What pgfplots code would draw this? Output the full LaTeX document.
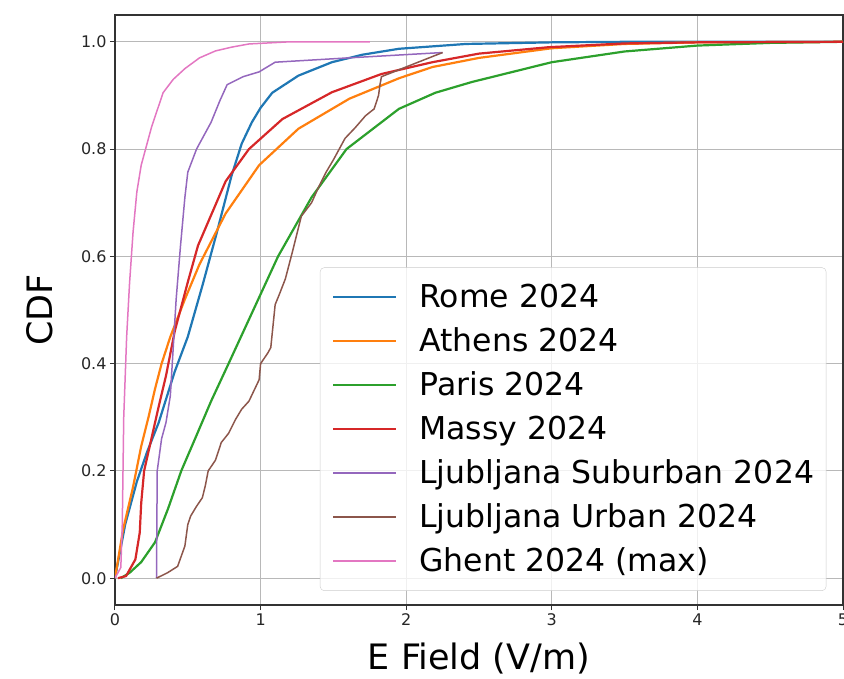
\documentclass[border=0pt]{standalone}
\usepackage{pgfplots}
\pgfplotsset{compat=1.18}
\usepackage{fontspec}
\setmainfont{DejaVu Sans}
\definecolor{c0}{HTML}{1F77B4}
\definecolor{c1}{HTML}{FF7F0E}
\definecolor{c2}{HTML}{2CA02C}
\definecolor{c3}{HTML}{D62728}
\definecolor{c4}{HTML}{9467BD}
\definecolor{c5}{HTML}{8C564B}
\definecolor{c6}{HTML}{E377C2}
\begin{document}
\begin{tikzpicture}
\useasboundingbox (-115pt,-73pt) rectangle (729pt,605pt);
\begin{axis}[
  at={(0,0)}, anchor=south west,
  scale only axis, width=728pt, height=590pt,
  xmin=0, xmax=5, ymin=-0.05, ymax=1.05,
  xtick={0,1,2,3,4,5}, ytick={0,0.2,0.4,0.6,0.8,1.0},
  yticklabel style={/pgf/number format/.cd,fixed,fixed zerofill,precision=1},
  /pgf/number format/assume math mode=true,
  tick label style={font=\fontsize{16}{19}\selectfont, text=black!85},
  grid=major, major grid style={color=black!28, line width=1pt},
  axis line style={black!80, line width=1.3pt},
  tick align=outside, major tick length=5pt, tick style={black!80, line width=1pt},
  tick pos=left,
  xlabel={E Field (V/m)}, ylabel={CDF},
  label style={font=\fontsize{35}{40}\selectfont},
  xlabel style={at={(axis description cs:0.5,0)}, anchor=base, yshift=-64pt},
  ylabel style={at={(axis description cs:-0.0865,0.5)}, anchor=base, rotate=0},
  legend style={at={(0.977,0.024)}, anchor=south east, draw=black!20, rounded corners=4pt,
    fill=white, fill opacity=0.8, text opacity=1, font=\fontsize{31.5}{37}\selectfont,
    inner xsep=12pt, inner ysep=14pt, row sep=13pt,
    nodes={inner sep=0pt, text height=26pt, text depth=5pt},
    /tikz/every even column/.style={column sep=0pt},
    /tikz/every odd column/.style={column sep=0pt}},
  legend cell align=left,
  legend image code/.code={\draw[#1] (0pt,0pt) -- (63pt,0pt); \path (85pt,0pt);},
]
\addplot[c0, line width=2.2pt] coordinates {(0,0)(0.07,0.1)(0.15,0.18)(0.22,0.235)(0.30,0.29)(0.41,0.385)(0.50,0.45)(0.60,0.545)(0.70,0.645)(0.80,0.75)(0.87,0.81)(0.94,0.85)(1.00,0.877)(1.08,0.905)(1.26,0.937)(1.49,0.962)(1.7,0.976)(1.95,0.987)(2.41,0.996)(3.0,0.999)(3.5,1.0)(5,1.0)};
\addlegendentry{Rome 2024}
\addplot[c1, line width=2.2pt] coordinates {(0,0)(0.055,0.09)(0.124,0.17)(0.18,0.246)(0.23,0.30)(0.275,0.353)(0.32,0.40)(0.38,0.45)(0.48,0.52)(0.58,0.585)(0.76,0.68)(0.99,0.77)(1.26,0.838)(1.61,0.894)(1.95,0.932)(2.18,0.953)(2.5,0.97)(3.0,0.988)(3.5,0.996)(4.0,0.999)(5,1.0)};
\addlegendentry{Athens 2024}
\addplot[c2, line width=2.2pt] coordinates {(0.04,0)(0.10,0.01)(0.18,0.03)(0.275,0.067)(0.365,0.13)(0.455,0.2)(0.55,0.26)(0.66,0.33)(0.78,0.4)(0.95,0.5)(1.12,0.6)(1.35,0.71)(1.59,0.8)(1.95,0.875)(2.2,0.905)(2.45,0.925)(3.0,0.962)(3.5,0.982)(4.0,0.993)(4.5,0.998)(5,1.0)};
\addlegendentry{Paris 2024}
\addplot[c3, line width=2.2pt] coordinates {(0.02,0)(0.076,0.004)(0.14,0.035)(0.17,0.085)(0.18,0.14)(0.20,0.2)(0.25,0.26)(0.30,0.32)(0.35,0.377)(0.41,0.46)(0.50,0.552)(0.57,0.62)(0.76,0.74)(0.92,0.80)(1.15,0.856)(1.49,0.906)(1.83,0.94)(2.18,0.962)(2.5,0.978)(2.98,0.99)(3.5,0.997)(4.0,0.999)(5,1.0)};
\addlegendentry{Massy 2024}
\addplot[c4, line width=1.5pt] coordinates {(0.285,0)(0.29,0.2)(0.32,0.26)(0.35,0.29)(0.38,0.34)(0.40,0.43)(0.42,0.52)(0.45,0.62)(0.48,0.71)(0.50,0.757)(0.56,0.80)(0.62,0.83)(0.66,0.85)(0.72,0.89)(0.77,0.92)(0.88,0.935)(0.99,0.944)(1.10,0.962)(1.6,0.97)(2.25,0.98)};
\addlegendentry{Ljubljana Suburban 2024}
\addplot[c5, line width=1.5pt] coordinates {(0.285,0)(0.36,0.01)(0.43,0.022)(0.48,0.06)(0.50,0.10)(0.52,0.116)(0.56,0.134)(0.60,0.15)(0.62,0.172)(0.64,0.20)(0.69,0.22)(0.73,0.253)(0.78,0.27)(0.83,0.297)(0.87,0.315)(0.92,0.33)(0.99,0.37)(1.0,0.40)(1.05,0.42)(1.07,0.43)(1.10,0.51)(1.13,0.53)(1.17,0.558)(1.22,0.61)(1.28,0.675)(1.35,0.70)(1.40,0.73)(1.45,0.757)(1.50,0.78)(1.58,0.82)(1.65,0.84)(1.72,0.862)(1.78,0.875)(1.81,0.90)(1.82,0.92)(1.83,0.935)(2.25,0.98)};
\addlegendentry{Ljubljana Urban 2024}
\addplot[c6, line width=1.5pt] coordinates {(0,0)(0.04,0.02)(0.05,0.1)(0.06,0.3)(0.08,0.45)(0.10,0.55)(0.124,0.645)(0.15,0.72)(0.18,0.77)(0.25,0.84)(0.33,0.905)(0.40,0.93)(0.48,0.95)(0.58,0.97)(0.69,0.983)(0.8,0.99)(0.92,0.996)(1.2,1.0)(1.75,1.0)};
\addlegendentry{Ghent 2024 (max)}
\end{axis}
\end{tikzpicture}
\end{document}
